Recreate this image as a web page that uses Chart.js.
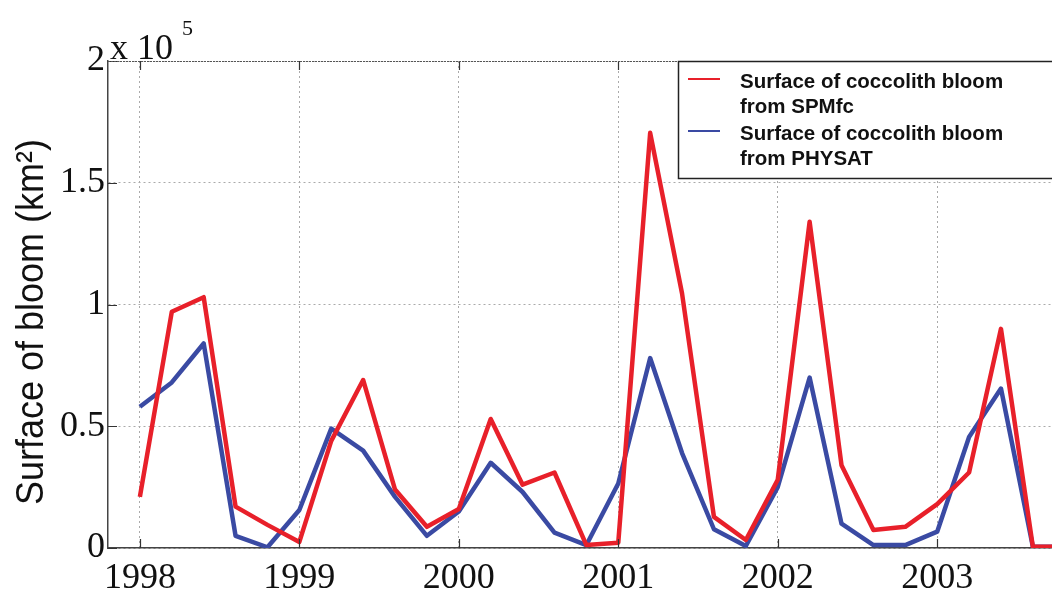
<!DOCTYPE html>
<html>
<head>
<meta charset="utf-8">
<script src="https://cdn.jsdelivr.net/npm/chart.js@4/dist/chart.umd.min.js"></script>
<style>
  html, body { margin: 0; padding: 0; background: #fff; }
  #wrap { width: 1052px; height: 590px; }
</style>
</head>
<body>
<div id="wrap"><canvas id="myChart" width="1052" height="590"></canvas></div>
<script>
// sample dates (fraction of year), 5 per year
var years = [1998.0, 1998.2, 1998.4, 1998.6, 1998.8,
             1999.0, 1999.2, 1999.4, 1999.6, 1999.8,
             2000.0, 2000.2, 2000.4, 2000.6, 2000.8,
             2001.0, 2001.2, 2001.4, 2001.6, 2001.8,
             2002.0, 2002.2, 2002.4, 2002.6, 2002.8,
             2003.0, 2003.2, 2003.4, 2003.6, 2003.8]

// bloom surface in km2
var spmfc = [21000, 97000, 103000, 17000, 9500,
             2500, 44000, 69000, 24000, 8700,
             16000, 53000, 26000, 31000, 1200,
             2200, 170500, 104500, 12800, 3300,
             28000, 134000, 34000, 7400, 8700,
             18000, 31000, 90000, 500, 500]

var physat = [58000, 68000, 84000, 5000, 300,
              15600, 49000, 40000, 21000, 5000,
              15000, 35000, 23000, 6300, 1200,
              26500, 78000, 39000, 7700, 800,
              25000, 70000, 10000, 1200, 1200,
              6700, 45600, 65500, 500, 500]

var xTicks = [1998, 1999, 2000, 2001, 2002, 2003]
var yTicks = [0, 50000, 100000, 150000, 200000]
var yTickLabels = ['0', '0.5', '1', '1.5', '2']

var seriesNames = [['Surface of coccolith bloom', 'from SPMfc'],
                   ['Surface of coccolith bloom', 'from PHYSAT']]
var seriesColors = ['#e8202a', '#3a4aa3']

var serif = "'Liberation Serif', 'DejaVu Serif', serif"
var sans = "'Liberation Sans', Arial, sans-serif"

var decor = {
  id: 'decor',
  afterDraw: function (chart) {
    var c = chart.ctx
    var a = chart.chartArea
    var xs = chart.scales.x
    var ys = chart.scales.y
    c.save()

    // inward tick marks
    c.strokeStyle = '#333'
    c.lineWidth = 1.2
    c.beginPath()
    xTicks.forEach(function (v) {
      var px = Math.round(xs.getPixelForValue(v)) + 0.5
      c.moveTo(px, a.bottom); c.lineTo(px, a.bottom - 9)
      c.moveTo(px, a.top); c.lineTo(px, a.top + 9)
    })
    yTicks.forEach(function (v) {
      var py = Math.round(ys.getPixelForValue(v)) + 0.5
      c.moveTo(a.left, py); c.lineTo(a.left + 9, py)
    })
    c.stroke()

    // top frame line
    c.strokeStyle = '#555'
    c.setLineDash([2, 1])
    c.beginPath()
    c.moveTo(a.left, a.top + 0.5); c.lineTo(a.right, a.top + 0.5)
    c.stroke()
    c.setLineDash([])

    // exponent label
    c.fillStyle = '#111'
    c.textBaseline = 'alphabetic'
    c.textAlign = 'left'
    c.font = '36px ' + serif
    c.fillText('x 10', a.left + 2, a.top - 2)
    c.font = '22px ' + serif
    c.fillText('5', a.left + 74, a.top - 26)

    // y axis title
    c.save()
    c.translate(43, 322)
    c.rotate(-Math.PI / 2)
    c.scale(1, 1.07)
    c.textAlign = 'center'
    c.font = '36px ' + sans
    c.fillText('Surface of bloom (km\u00b2)', 0, 0)
    c.restore()

    // legend box
    var lx = a.left + 570, ly = a.top
    c.fillStyle = '#fff'
    c.fillRect(lx, ly, 400, 117)
    c.strokeStyle = '#222'
    c.lineWidth = 1.5
    c.strokeRect(lx + 0.5, ly + 0.5, 400, 117)
    c.font = 'bold 20.5px ' + sans
    c.textAlign = 'left'
    seriesNames.forEach(function (lines, i) {
      var base = ly + 27 + i * 52
      c.strokeStyle = seriesColors[i]
      c.lineWidth = 2
      c.beginPath()
      c.moveTo(lx + 10, base - 9); c.lineTo(lx + 42, base - 9)
      c.stroke()
      c.fillStyle = '#111'
      c.fillText(lines[0], lx + 62, base)
      c.fillText(lines[1], lx + 62, base + 25)
    })
    c.restore()
  }
}

var ctx = document.getElementById('myChart').getContext('2d')
var chart = new Chart(ctx, {
  type: 'line',
  data: {
    datasets: [{
      label: seriesNames[0].join(' '),
      data: years.map(function (x, i) { return { x: x, y: spmfc[i] } }),
      borderColor: seriesColors[0],
      borderWidth: 4.5,
      borderJoinStyle: 'round',
      pointRadius: 0,
      tension: 0,
      fill: false
    }, {
      label: seriesNames[1].join(' '),
      data: years.map(function (x, i) { return { x: x, y: physat[i] } }),
      borderColor: seriesColors[1],
      borderWidth: 4.5,
      borderJoinStyle: 'round',
      pointRadius: 0,
      tension: 0,
      fill: false
    }]
  },
  options: {
    responsive: false,
    animation: false,
    layout: { padding: { top: 61, right: 0, left: 0, bottom: 0 } },
    plugins: { legend: { display: false }, tooltip: { enabled: false } },
    scales: {
      x: {
        type: 'linear',
        min: 1997.8,
        max: 2003.72,
        afterBuildTicks: function (s) { s.ticks = xTicks.map(function (v) { return { value: v } }) },
        afterFit: function (s) { s.height = 42 },
        grid: { color: '#aaa', lineWidth: 1, drawTicks: false },
        border: { color: '#444', width: 1.5, dash: [2, 3] },
        ticks: {
          color: '#111',
          padding: 9,
          maxRotation: 0,
          font: { family: serif, size: 36 },
          callback: function (v) { return String(v) }
        }
      },
      y: {
        min: 0,
        max: 200000,
        afterBuildTicks: function (s) { s.ticks = yTicks.map(function (v) { return { value: v } }) },
        afterFit: function (s) { s.width = 108 },
        grid: { color: '#aaa', lineWidth: 1, drawTicks: false },
        border: { color: '#444', width: 1.5, dash: [2, 3] },
        ticks: {
          color: '#111',
          padding: 3,
          font: { family: serif, size: 36 },
          callback: function (v) { return yTickLabels[yTicks.indexOf(v)] }
        }
      }
    }
  },
  plugins: [decor]
})
</script>
</body>
</html>
